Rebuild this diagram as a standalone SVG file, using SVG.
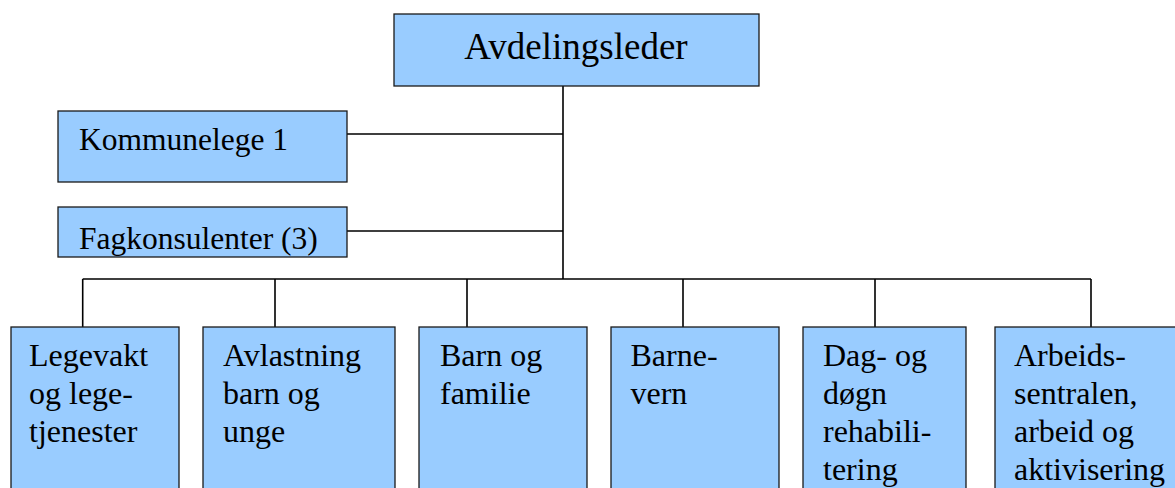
<svg xmlns="http://www.w3.org/2000/svg" width="1175" height="488" viewBox="0 0 1175 488">
<style>
.box{fill:#99CCFF;stroke:#1a1a1a;stroke-width:1.3}
.con{stroke:#000;stroke-width:1.6;fill:none}
</style>
<defs>
<clipPath id="clipFag"><rect x="58" y="207" width="289" height="50"/></clipPath>
</defs>
<rect width="1175" height="488" fill="#fff"/>
<g id="connectors">
<path class="con" d="M563,86 V279 M347,134 H563 M347,231 H563 M82.7,279 H1091 M82.7,279 V327 M275,279 V327 M467,279 V327 M683,279 V327 M875,279 V327 M1091,279 V327"/>
</g>
<g font-family="Liberation Serif, Times New Roman, DejaVu Serif, serif" font-size="32" fill="#000">
<g id="avdelingsleder">
<rect class="box" x="394" y="14" width="365" height="72"/>
<text x="576" y="59" font-size="37" text-anchor="middle">Avdelingsleder</text>
</g>
<g id="kommunelege">
<rect class="box" x="58" y="111" width="289" height="71"/>
<text x="79" y="150" font-size="31.5">Kommunelege 1</text>
</g>
<g id="fagkonsulenter">
<rect class="box" x="58" y="207" width="289" height="50"/>
<text x="79" y="249" font-size="31.5" clip-path="url(#clipFag)">Fagkonsulenter (3)</text>
</g>
<g id="legevakt">
<rect class="box" x="11" y="327" width="168" height="180"/>
<text><tspan x="29" y="366">Legevakt</tspan><tspan x="29" y="404">og lege-</tspan><tspan x="29" y="442">tjenester</tspan></text>
</g>
<g id="avlastning">
<rect class="box" x="203" y="327" width="192" height="180"/>
<text><tspan x="223" y="366">Avlastning</tspan><tspan x="223" y="404">barn og</tspan><tspan x="223" y="442">unge</tspan></text>
</g>
<g id="barn-og-familie">
<rect class="box" x="419" y="327" width="168" height="180"/>
<text><tspan x="440" y="366">Barn og</tspan><tspan x="440" y="404">familie</tspan></text>
</g>
<g id="barnevern">
<rect class="box" x="611" y="327" width="168" height="180"/>
<text><tspan x="630.5" y="366">Barne-</tspan><tspan x="630.5" y="404">vern</tspan></text>
</g>
<g id="dag-og-dogn">
<rect class="box" x="803" y="327" width="163" height="180"/>
<text><tspan x="823" y="366">Dag- og</tspan><tspan x="823" y="404">døgn</tspan><tspan x="823" y="442">rehabili-</tspan><tspan x="823" y="480">tering</tspan></text>
</g>
<g id="arbeidssentralen">
<rect class="box" x="995" y="327" width="190" height="180"/>
<text><tspan x="1014" y="366">Arbeids-</tspan><tspan x="1014" y="404">sentralen,</tspan><tspan x="1014" y="442">arbeid og</tspan><tspan x="1014" y="480">aktivisering</tspan></text>
</g>
</g>
</svg>
